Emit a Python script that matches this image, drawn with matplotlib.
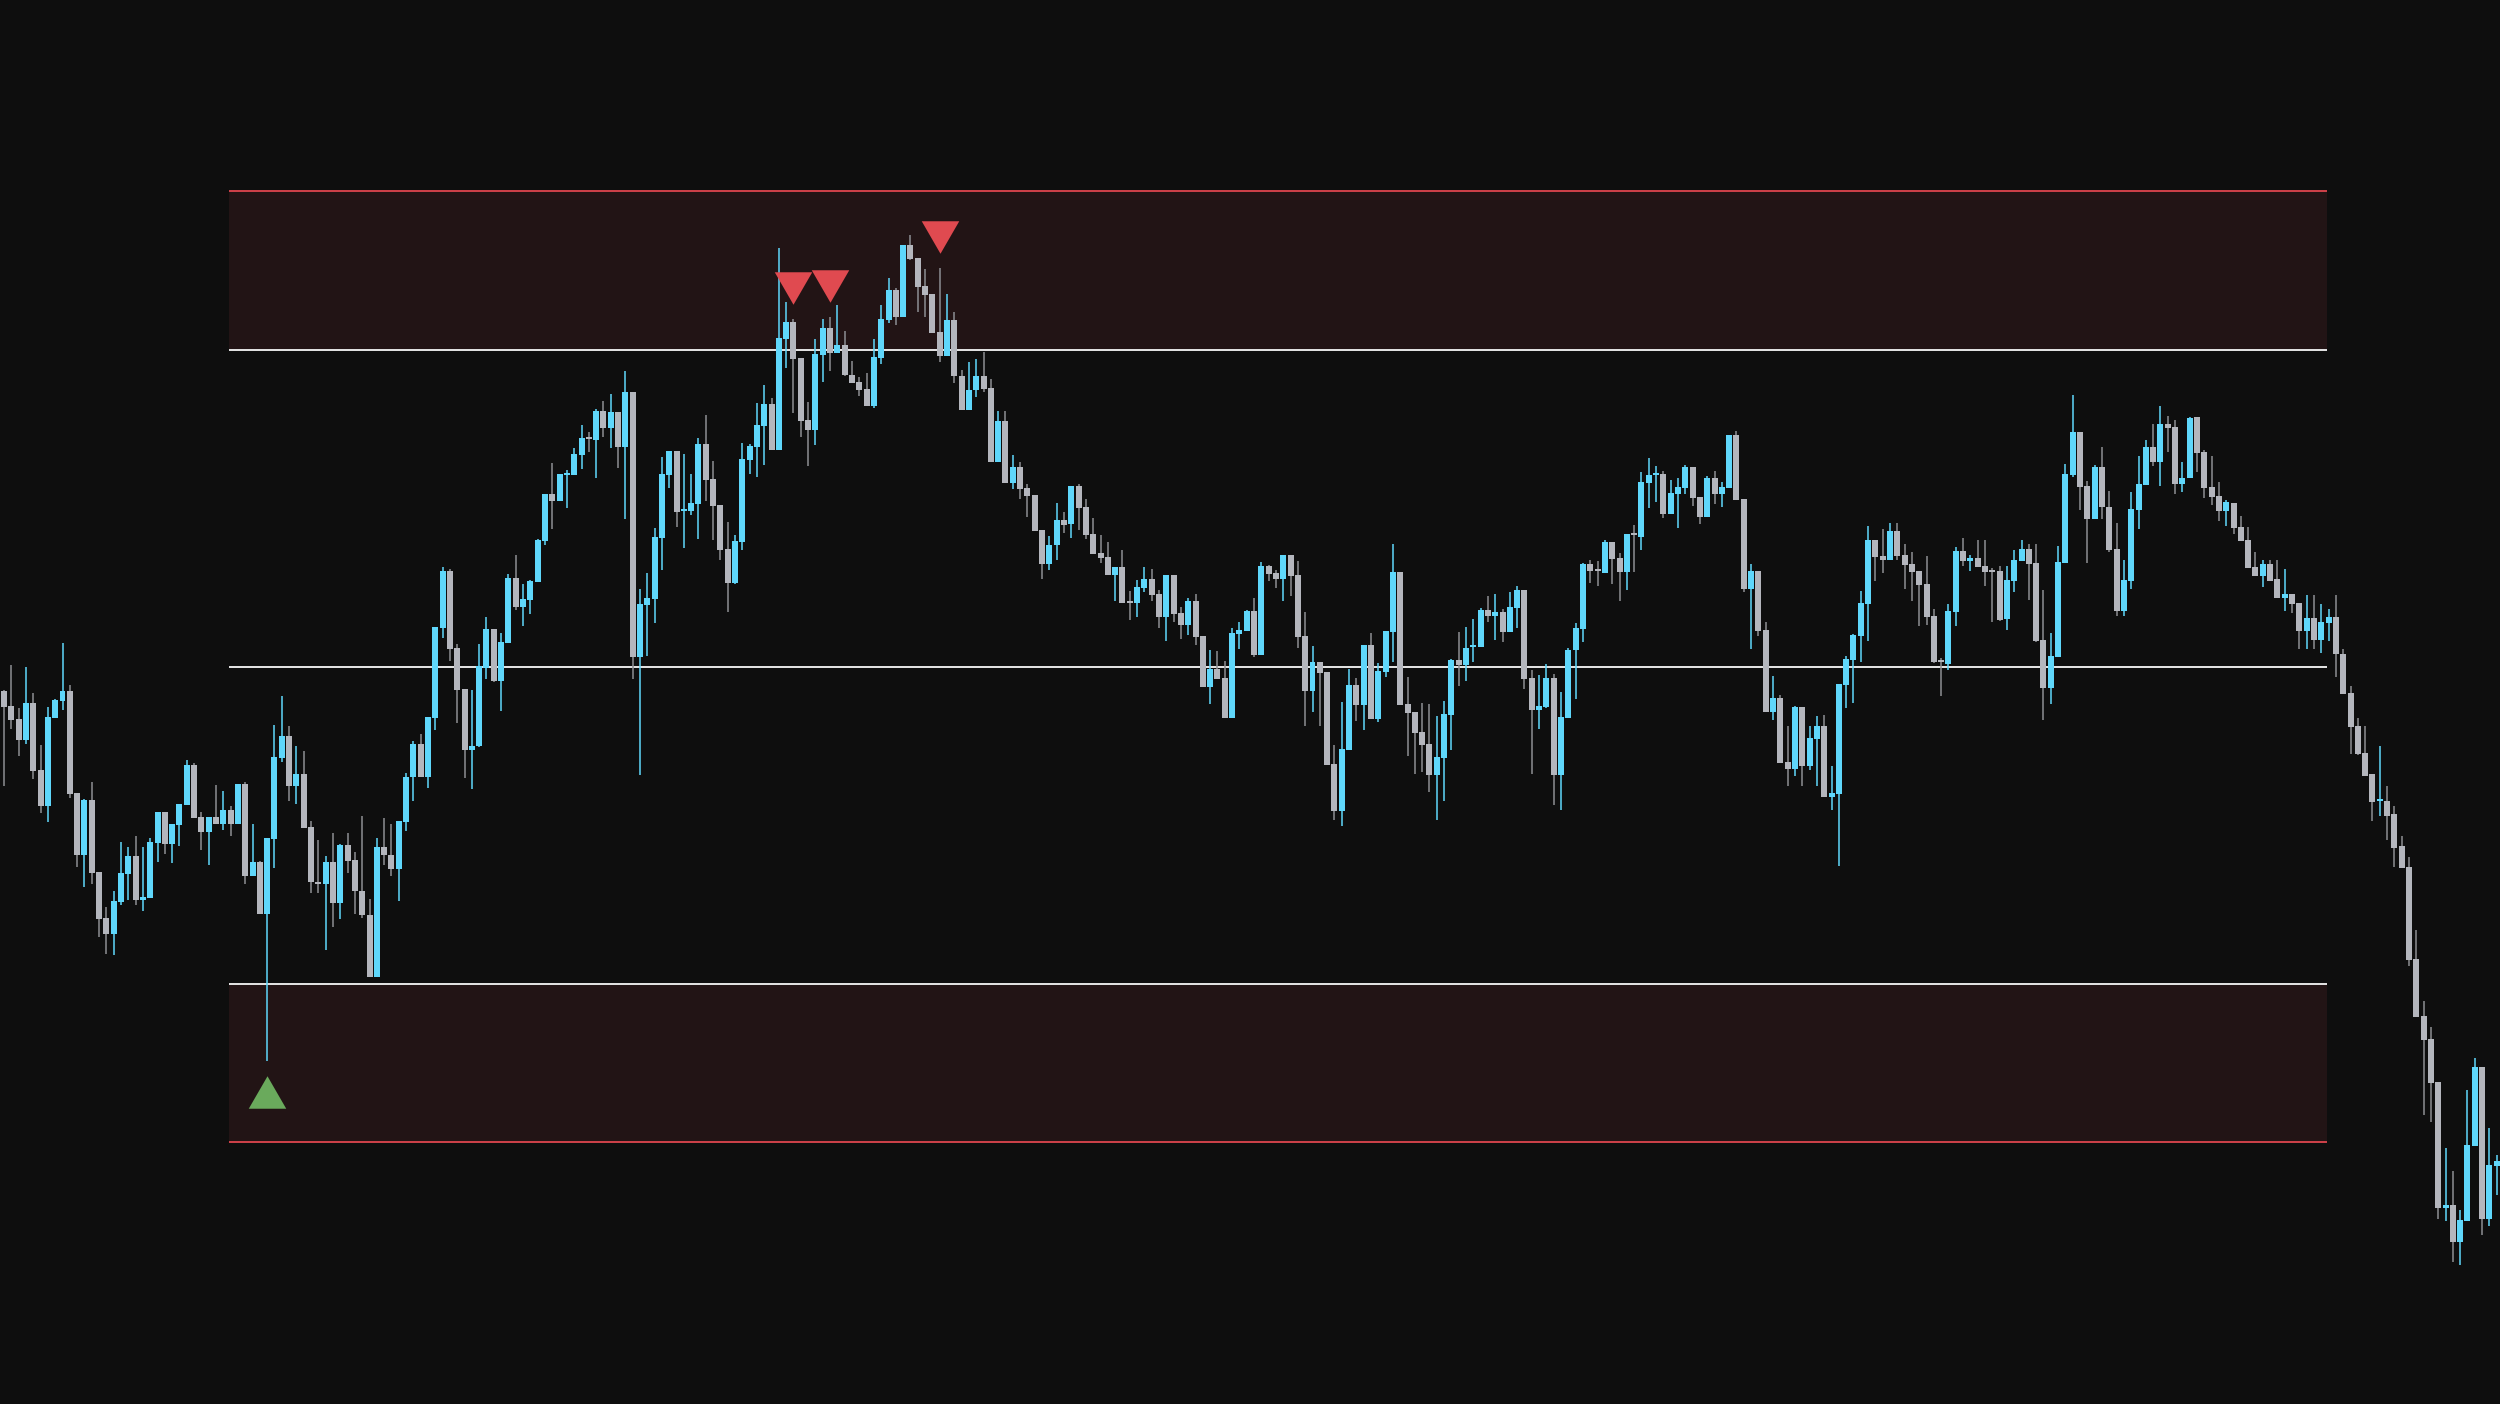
import numpy as np
import matplotlib
matplotlib.use('Agg')
from matplotlib import pyplot as plt

# OHLC (arbitrary price units, mid level = 100)
opens = [
    99.23, 98.76, 98.35, 97.68, 98.85, 96.74, 95.61, 98.39, 98.93, 99.23,
    96.01, 94.05, 95.79, 93.52, 92.06, 91.57, 92.57, 93.45, 94.02, 92.63,
    92.69, 94.43, 95.41, 94.40, 95.00, 95.63, 96.89, 95.25, 94.78, 95.25,
    95.03, 95.47, 95.03, 96.29, 93.39, 93.83, 92.19, 94.56, 97.12, 97.81,
    96.23, 96.61, 94.94, 93.22, 93.14, 93.85, 92.54, 94.36, 93.89, 92.93,
    92.17, 90.20, 94.32, 94.07, 93.61, 95.09, 96.51, 97.55, 96.51, 98.38,
    101.22, 103.01, 100.58, 99.28, 97.37, 97.49, 99.97, 101.20, 99.55, 100.75,
    102.81, 101.87, 102.09, 102.67, 103.97, 105.45, 105.24, 106.05, 106.05, 106.68,
    107.24, 107.16, 108.06, 107.54, 108.02, 106.94, 108.66, 100.32, 101.95, 102.14,
    104.06, 106.04, 106.79, 104.91, 104.91, 105.12, 107.01, 105.92, 105.09, 103.71,
    102.64, 103.93, 106.52, 106.93, 107.60, 108.28, 106.84, 110.34, 110.86, 109.73,
    107.77, 107.47, 109.84, 110.68, 109.90, 110.14, 109.19, 108.97, 108.75, 108.23,
    109.74, 110.93, 111.88, 111.02, 113.29, 112.88, 112.01, 111.75, 110.55, 109.80,
    110.93, 109.18, 108.11, 108.72, 109.18, 108.80, 106.46, 107.76, 105.80, 106.31,
    105.64, 105.42, 104.32, 103.24, 103.84, 104.63, 104.51, 105.71, 105.04, 104.19,
    103.59, 103.46, 102.89, 103.15, 102.07, 102.01, 102.48, 102.77, 102.29, 101.57,
    102.89, 101.69, 101.32, 102.07, 100.97, 99.36, 99.93, 99.64, 98.38, 101.03,
    101.13, 101.76, 100.37, 103.18, 102.96, 102.77, 103.53, 102.89, 100.97, 99.23,
    100.15, 99.83, 96.93, 95.44, 97.37, 99.42, 98.79, 100.68, 98.35, 99.83,
    101.09, 102.99, 98.82, 98.57, 97.94, 97.56, 96.58, 97.12, 98.47, 100.21,
    100.05, 100.62, 100.62, 101.79, 101.60, 101.73, 101.09, 101.85, 102.42, 99.64,
    98.63, 98.73, 99.64, 96.58, 98.39, 100.53, 101.19, 103.24, 103.08, 102.96,
    103.94, 103.43, 102.99, 104.22, 104.09, 105.80, 106.05, 106.08, 104.82, 105.45,
    105.64, 106.31, 105.36, 104.73, 105.96, 105.45, 105.64, 107.32, 105.29, 102.45,
    103.02, 101.16, 98.57, 99.01, 96.99, 96.77, 98.73, 96.86, 97.72, 98.13,
    95.88, 95.98, 99.42, 100.21, 100.97, 101.98, 104.00, 103.48, 103.36, 104.27,
    103.52, 103.23, 103.01, 102.60, 101.59, 100.20, 100.07, 101.72, 103.64, 103.33,
    103.42, 103.17, 103.04, 103.01, 101.49, 102.69, 103.33, 103.71, 103.26, 100.83,
    99.32, 100.29, 103.26, 106.04, 107.40, 105.69, 104.65, 106.29, 105.03, 103.71,
    101.75, 102.69, 104.94, 105.73, 106.93, 106.45, 107.65, 107.56, 105.76, 105.95,
    107.87, 106.77, 105.66, 105.37, 104.91, 105.16, 104.40, 103.99, 103.14, 102.85,
    103.23, 102.75, 102.15, 102.30, 102.00, 101.13, 101.52, 100.83, 101.37, 101.56,
    100.41, 99.18, 98.12, 97.29, 96.60, 95.76, 95.76, 95.34, 94.33, 93.69,
    90.78, 88.97, 88.26, 86.90, 82.91, 83.01, 81.84, 82.50, 84.88, 87.38,
    82.59, 84.26,
]
highs = [
    99.25, 100.05, 98.69, 99.99, 99.17, 97.53, 98.73, 98.98, 100.75, 99.42,
    96.01, 95.82, 96.36, 93.52, 92.41, 92.92, 94.46, 94.31, 94.65, 94.31,
    94.59, 95.41, 95.41, 95.03, 95.66, 97.05, 96.96, 95.41, 95.25, 96.26,
    96.07, 95.60, 96.29, 96.36, 95.03, 93.86, 94.59, 98.16, 99.07, 98.13,
    97.49, 97.34, 95.13, 94.54, 94.04, 94.76, 94.40, 94.76, 94.16, 95.30,
    92.68, 94.61, 95.24, 95.05, 95.12, 96.66, 97.67, 97.87, 98.40, 101.24,
    103.14, 103.08, 100.73, 99.28, 99.25, 100.71, 101.56, 101.20, 101.05, 102.92,
    103.51, 102.60, 102.72, 104.03, 105.45, 106.41, 106.07, 106.20, 106.90, 107.62,
    107.41, 108.12, 108.38, 108.60, 108.02, 109.32, 108.66, 102.44, 102.95, 104.36,
    106.60, 106.81, 106.79, 106.70, 106.07, 107.21, 107.93, 106.48, 105.09, 104.56,
    104.14, 107.05, 107.01, 108.31, 108.88, 108.49, 113.20, 111.49, 110.96, 109.73,
    108.34, 110.33, 110.96, 111.03, 111.40, 110.58, 109.64, 109.14, 109.25, 110.33,
    111.40, 112.25, 111.94, 113.29, 113.61, 112.88, 112.53, 111.75, 112.59, 111.77,
    111.18, 109.37, 109.62, 109.72, 109.94, 109.08, 108.07, 108.07, 106.68, 106.46,
    105.77, 105.42, 104.32, 104.13, 105.17, 104.88, 105.71, 105.77, 105.29, 104.69,
    104.16, 103.94, 103.15, 103.68, 102.39, 102.74, 103.15, 103.08, 102.42, 102.89,
    102.89, 101.88, 102.17, 102.29, 100.97, 100.53, 100.49, 100.18, 101.22, 101.41,
    101.79, 102.17, 103.31, 103.21, 103.05, 103.53, 103.53, 103.34, 101.73, 100.65,
    100.15, 99.83, 97.53, 98.88, 99.93, 99.64, 100.68, 101.06, 100.12, 101.13,
    103.87, 102.99, 99.67, 98.57, 98.85, 98.82, 98.44, 98.92, 100.24, 101.09,
    101.25, 101.51, 101.85, 102.23, 102.29, 101.82, 102.36, 102.55, 102.42, 99.89,
    99.74, 100.08, 99.77, 99.20, 100.60, 101.38, 103.27, 103.37, 103.34, 104.00,
    103.94, 103.59, 104.19, 104.47, 106.15, 106.59, 106.34, 106.18, 105.89, 105.96,
    106.37, 106.31, 105.36, 106.02, 106.18, 105.83, 107.32, 107.44, 105.29, 103.24,
    103.02, 101.41, 99.71, 99.11, 98.13, 98.76, 98.73, 98.13, 98.44, 98.47,
    96.86, 99.45, 100.34, 101.03, 102.39, 104.44, 104.00, 104.34, 104.53, 104.53,
    103.86, 103.61, 103.01, 103.48, 101.81, 100.26, 101.97, 103.77, 104.05, 103.52,
    103.99, 103.99, 103.11, 103.17, 103.17, 103.67, 103.99, 103.86, 103.86, 102.41,
    101.05, 103.80, 106.39, 108.57, 107.40, 105.85, 106.36, 106.93, 105.54, 104.53,
    103.36, 105.51, 106.64, 107.15, 107.65, 108.22, 107.91, 107.78, 106.45, 107.87,
    107.87, 106.83, 106.63, 105.82, 105.25, 105.16, 104.75, 104.40, 103.63, 103.35,
    103.35, 103.35, 103.07, 102.30, 102.00, 102.25, 102.25, 101.97, 101.81, 102.25,
    100.57, 99.40, 98.39, 98.14, 96.60, 97.50, 96.24, 95.59, 94.66, 94.01,
    91.70, 89.45, 88.63, 86.90, 84.80, 84.08, 82.85, 86.65, 87.66, 87.38,
    85.46, 84.59,
]
lows = [
    96.24, 98.04, 97.19, 97.57, 96.45, 95.39, 95.11, 98.39, 98.63, 95.86,
    93.68, 93.05, 93.15, 91.47, 90.94, 90.91, 92.47, 92.63, 92.47, 92.29,
    92.69, 93.84, 94.09, 93.81, 94.35, 95.63, 95.22, 94.21, 93.75, 95.03,
    94.84, 94.65, 95.03, 93.14, 93.39, 92.19, 87.56, 93.64, 96.99, 95.76,
    95.66, 94.91, 92.85, 92.85, 91.06, 91.78, 92.03, 93.48, 92.19, 92.07,
    90.20, 90.20, 93.74, 93.39, 92.60, 94.82, 95.76, 96.51, 96.16, 98.00,
    100.90, 100.18, 98.22, 96.49, 96.14, 97.45, 99.61, 99.52, 98.60, 100.75,
    101.79, 101.28, 101.66, 102.67, 103.85, 104.35, 105.24, 105.01, 106.05, 106.24,
    106.78, 105.96, 107.25, 106.91, 106.27, 104.66, 99.61, 96.57, 100.34, 101.38,
    103.06, 105.64, 104.41, 103.75, 104.78, 104.04, 105.23, 104.00, 103.37, 101.73,
    102.61, 103.69, 106.08, 105.99, 106.37, 106.84, 106.84, 109.43, 108.00, 107.25,
    106.34, 107.00, 108.98, 109.33, 109.90, 109.17, 108.95, 108.54, 108.23, 108.17,
    109.56, 110.85, 110.78, 111.02, 112.84, 111.19, 111.04, 110.53, 109.61, 109.80,
    108.95, 108.11, 108.11, 108.52, 108.67, 106.46, 106.46, 105.80, 105.61, 105.29,
    104.73, 104.28, 102.77, 103.05, 103.37, 104.22, 104.06, 104.32, 104.03, 103.56,
    103.27, 102.89, 102.07, 102.01, 101.47, 101.57, 102.36, 102.07, 101.22, 100.81,
    101.41, 100.87, 101.00, 100.68, 99.36, 98.82, 99.61, 98.38, 98.38, 100.56,
    101.13, 100.30, 100.37, 102.71, 102.48, 102.07, 102.23, 100.59, 98.13, 98.57,
    98.13, 96.89, 95.16, 94.97, 97.37, 98.28, 98.00, 98.35, 98.25, 99.67,
    100.15, 98.79, 97.18, 96.61, 96.67, 96.04, 95.16, 95.76, 97.37, 99.39,
    99.55, 100.15, 100.62, 101.41, 100.84, 100.78, 101.09, 101.22, 99.29, 96.61,
    98.03, 98.69, 95.63, 95.47, 98.39, 98.99, 100.78, 102.64, 102.55, 102.96,
    102.61, 102.07, 102.42, 102.99, 103.68, 105.01, 105.20, 104.69, 104.82, 104.38,
    105.45, 105.07, 104.51, 104.73, 105.14, 105.04, 105.64, 105.26, 102.36, 100.56,
    100.97, 98.57, 98.32, 96.96, 96.23, 96.55, 96.23, 96.74, 96.23, 95.88,
    95.47, 93.71, 98.69, 98.85, 100.15, 100.81, 102.71, 102.95, 103.36, 103.36,
    102.44, 102.06, 101.27, 101.31, 100.11, 99.09, 99.88, 101.27, 103.17, 103.01,
    103.14, 102.54, 101.40, 101.43, 101.15, 102.35, 103.33, 102.09, 100.77, 98.31,
    98.81, 100.29, 103.26, 105.98, 104.94, 103.26, 104.65, 104.65, 103.61, 101.59,
    101.59, 102.44, 104.34, 105.73, 106.33, 105.69, 106.77, 105.44, 105.51, 105.95,
    106.15, 105.32, 105.09, 104.59, 104.45, 104.17, 103.95, 103.10, 102.85, 102.50,
    102.71, 102.15, 101.77, 101.70, 100.57, 100.57, 100.57, 100.44, 100.80, 99.68,
    99.15, 97.25, 97.20, 96.56, 95.14, 95.30, 94.54, 93.69, 93.65, 90.55,
    88.95, 85.85, 85.64, 82.59, 82.50, 81.21, 81.12, 82.50, 84.88, 82.06,
    82.34, 83.32,
]
closes = [
    98.74, 98.33, 97.68, 98.85, 96.72, 95.61, 98.41, 98.95, 99.23, 95.99,
    94.05, 95.79, 93.49, 92.03, 91.57, 92.60, 93.48, 94.02, 92.63, 92.73,
    94.46, 95.41, 94.40, 95.03, 95.66, 96.89, 95.22, 94.78, 95.25, 95.03,
    95.47, 95.03, 96.29, 93.39, 93.83, 92.19, 94.59, 97.15, 97.81, 96.23,
    96.61, 94.91, 93.20, 93.14, 93.85, 92.54, 94.36, 93.86, 92.92, 92.16,
    90.20, 94.32, 94.06, 93.61, 95.12, 96.53, 97.55, 96.51, 98.40, 101.24,
    103.01, 100.56, 99.27, 97.37, 97.51, 100.01, 101.20, 99.55, 100.77, 102.81,
    101.87, 102.12, 102.70, 103.99, 105.45, 105.24, 106.07, 106.10, 106.70, 107.21,
    107.19, 108.06, 107.54, 108.02, 106.94, 108.66, 100.32, 101.97, 102.16, 104.08,
    106.07, 106.79, 104.89, 104.98, 105.16, 107.01, 105.89, 105.08, 103.69, 102.64,
    103.96, 106.55, 106.95, 107.62, 108.28, 106.84, 110.36, 110.86, 109.71, 107.76,
    107.47, 109.86, 110.68, 109.90, 110.14, 109.19, 108.95, 108.73, 108.23, 109.77,
    110.96, 111.88, 111.04, 113.29, 112.86, 111.98, 111.73, 110.53, 109.79, 110.93,
    109.16, 108.11, 108.74, 109.18, 108.77, 106.46, 107.76, 105.80, 106.31, 105.61,
    105.39, 104.28, 103.24, 103.84, 104.63, 104.47, 105.71, 105.01, 104.16, 103.56,
    103.43, 102.89, 103.15, 102.01, 102.01, 102.52, 102.77, 102.26, 101.57, 102.89,
    101.66, 101.32, 102.07, 100.94, 99.36, 99.93, 99.61, 98.38, 101.06, 101.16,
    101.76, 100.37, 103.18, 102.93, 102.77, 103.53, 102.86, 100.94, 99.23, 100.15,
    99.80, 96.89, 95.44, 97.40, 99.42, 98.79, 100.68, 98.35, 99.86, 101.13,
    102.99, 98.79, 98.54, 97.91, 97.53, 96.58, 97.15, 98.51, 100.21, 100.05,
    100.59, 100.68, 101.79, 101.60, 101.73, 101.09, 101.88, 102.42, 99.61, 98.63,
    98.76, 99.64, 96.58, 98.41, 100.53, 101.21, 103.24, 103.02, 103.02, 103.94,
    103.40, 102.99, 104.19, 104.16, 105.83, 106.05, 106.12, 104.82, 105.48, 105.67,
    106.31, 105.33, 104.73, 105.96, 105.45, 105.67, 107.32, 105.26, 102.45, 103.02,
    101.13, 98.57, 99.01, 96.96, 96.77, 98.73, 96.86, 97.75, 98.13, 95.88,
    96.01, 99.45, 100.24, 101.00, 102.01, 104.00, 103.46, 103.36, 104.27, 103.48,
    103.20, 102.98, 102.57, 101.56, 100.14, 100.14, 101.75, 103.64, 103.33, 103.42,
    103.14, 102.98, 102.98, 101.46, 102.73, 103.36, 103.71, 103.23, 100.80, 99.32,
    100.33, 103.29, 106.07, 107.40, 105.66, 104.65, 106.29, 105.03, 103.67, 101.75,
    102.73, 104.97, 105.76, 106.93, 106.45, 107.65, 107.53, 105.76, 105.95, 107.84,
    106.74, 105.62, 105.34, 104.91, 105.18, 104.36, 103.95, 103.10, 102.85, 103.23,
    102.71, 102.15, 102.30, 101.97, 101.13, 101.52, 100.83, 101.40, 101.56, 100.39,
    99.15, 98.09, 97.25, 96.56, 95.74, 95.80, 95.30, 94.29, 93.65, 90.74,
    88.95, 88.23, 86.86, 82.91, 83.01, 81.84, 82.54, 84.91, 87.38, 82.59,
    84.27, 84.40,
]

# signal candles
buy_signals = [36]
sell_signals = [108, 113, 128]

# band levels and the window they cover (bar index)
mid_level = 100
inner_dev = 10
outer_dev = 15
window_start = 30.8
window_end = 317.85

bg = '#0e0e0e'
band_col = '#221415'
up_col = '#5fd7fb'
down_col = '#b4b6bd'
down_wick = '#8d8e93'

o = np.array(opens)
h = np.array(highs)
l = np.array(lows)
c = np.array(closes)
x = np.arange(len(c))
up = c >= o

fig = plt.figure(figsize=(25, 14.04), dpi=100)
fig.patch.set_facecolor(bg)
ax = fig.add_axes([0, 0, 1, 1])
ax.set_facecolor(bg)
ax.axis('off')

# bands
ax.fill_between([window_start, window_end], mid_level + inner_dev, mid_level + outer_dev,
                color=band_col, lw=0, zorder=1)
ax.fill_between([window_start, window_end], mid_level - outer_dev, mid_level - inner_dev,
                color=band_col, lw=0, zorder=1)
ax.hlines([mid_level - inner_dev, mid_level, mid_level + inner_dev], window_start, window_end,
          color='#e6e6e6', lw=1.4, zorder=2)
ax.hlines([mid_level - outer_dev, mid_level + outer_dev], window_start, window_end,
          color='#d0424a', lw=1.4, zorder=2)

# candles
ax.vlines(x, l, h, colors=np.where(up, up_col, down_wick), lw=1.1, zorder=3)
body_lo = np.minimum(o, c)
body_h = np.maximum(np.abs(c - o), 0.06)
ax.bar(x, body_h, bottom=body_lo, width=0.82, color=np.where(up, up_col, down_col),
       lw=0, zorder=4)

# signal markers (equilateral triangles)
tri_up = [(-1, -0.866), (1, -0.866), (0, 0.866)]
tri_down = [(-1, 0.866), (1, 0.866), (0, -0.866)]
gap = 0.97
ax.plot(buy_signals, l[buy_signals] - gap, ls='none', marker=tri_up, ms=27,
        mew=0, color='#6aaa5c', zorder=5)
ax.plot(sell_signals, h[sell_signals] + gap, ls='none', marker=tri_down, ms=27,
        mew=0, color='#e04a50', zorder=5)

ax.set_xlim(-0.55, len(c) - 0.55)
ax.set_ylim(76.74, 121.03)

fig.savefig('out.png', dpi=100, facecolor=bg)
